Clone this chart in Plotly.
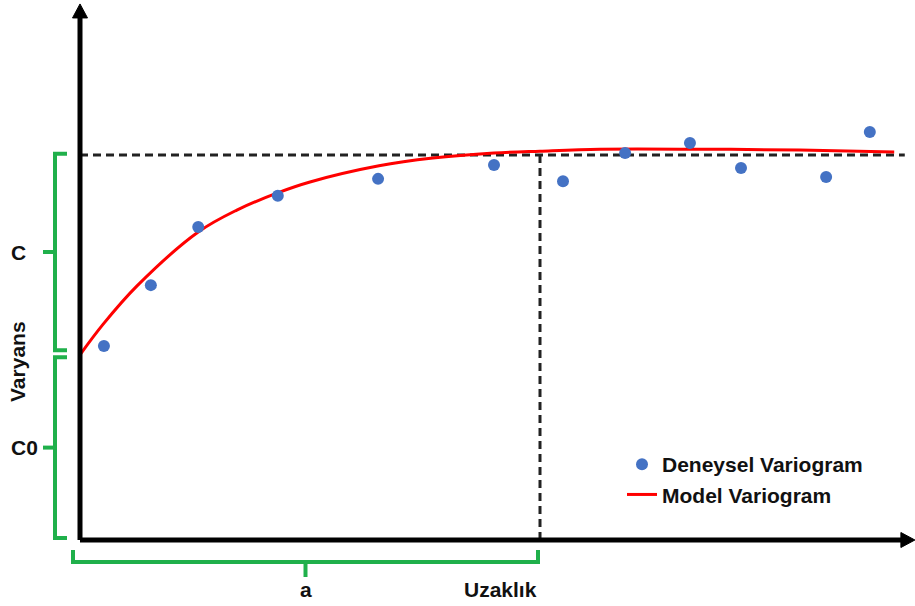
import plotly.graph_objects as go

# ---- data (distance units, variance units) ----
lag_distance = [0.52, 1.54, 2.57, 4.30, 6.48, 9.00, 10.50, 11.85, 13.26, 14.37, 16.22, 17.17]
exp_variance = [5.04, 6.62, 8.13, 8.94, 9.38, 9.74, 9.32, 10.05, 10.31, 9.66, 9.43, 10.60]

model_distance = [0.0, 0.50, 1.24, 2.57, 3.41, 4.28, 5.00, 6.50, 7.67, 9.00, 10.0, 11.30, 13.48, 15.65, 17.70]
model_variance = [4.81, 5.60, 6.60, 8.00, 8.57, 9.01, 9.30, 9.72, 9.92, 10.05, 10.10, 10.15, 10.15, 10.13, 10.08]

sill = 10.0
nugget = 4.81
range_a = 10.0
x_end = 17.93

series_names = ["Deneysel Variogram", "Model Variogram"]
label_C, label_C0, label_a = "C", "C0", "a"
x_title, y_title = "Uzaklık", "Varyans"

# axis ranges (px = 80 + 46*x ; py = 540 - 38.5*y)
XR = [-80 / 46, (915 - 80) / 46]
YR = [-66 / 38.5, 540 / 38.5]
px = 1 / 46.0
py = 1 / 38.5

GREEN = "#20b04b"
BLACK = "#000000"
FONT = "Liberation Sans, Arial, sans-serif"

fig = go.Figure()

fig.add_trace(go.Scatter(
    x=model_distance, y=model_variance, mode="lines", name=series_names[1],
    line=dict(color="#ff0000", width=3, shape="spline", smoothing=1.0),
))
fig.add_trace(go.Scatter(
    x=lag_distance, y=exp_variance, mode="markers", name=series_names[0],
    marker=dict(color="#4472c4", size=12, line=dict(width=0)),
))

shapes = []
# dashed sill and range lines
shapes.append(dict(type="line", x0=0, x1=x_end, y0=sill, y1=sill,
                   line=dict(color="#222222", width=3, dash="8px,5px"), layer="below"))
shapes.append(dict(type="line", x0=range_a, x1=range_a, y0=0, y1=sill,
                   line=dict(color="#222222", width=3, dash="8px,5px"), layer="below"))
# axes
y_top = 13.56
x_tip = 18.15
shapes.append(dict(type="line", x0=0, x1=0, y0=0, y1=y_top + 2 * py,
                   line=dict(color=BLACK, width=5)))
shapes.append(dict(type="line", x0=0, x1=x_tip - 13 * px, y0=0, y1=0,
                   line=dict(color=BLACK, width=5)))
# arrowheads
shapes.append(dict(type="path",
                   path=f"M {-7.5*px},{y_top} L {7.5*px},{y_top} L 0,{y_top + 14*py} Z",
                   fillcolor=BLACK, line=dict(color=BLACK, width=1)))
shapes.append(dict(type="path",
                   path=f"M {x_tip - 14*px},{7.5*py} L {x_tip - 14*px},{-7.5*py} L {x_tip},0 Z",
                   fillcolor=BLACK, line=dict(color=BLACK, width=1)))

# green brackets
gl = dict(color=GREEN, width=4)
bx = -25 * px      # bracket spine x
hx = -13 * px      # hook end x
tx = -37 * px      # tick end x
c_top, c_bot = sill + 0.03, nugget + 0.12
c0_top, c0_bot = nugget - 0.06, 0.05
c_mid = (c_top + c_bot) / 2
c0_mid = (c0_top + c0_bot) / 2
shapes.append(dict(type="path", line=gl,
                   path=f"M {hx},{c_top} L {bx},{c_top} L {bx},{c_bot} L {hx},{c_bot}"))
shapes.append(dict(type="line", x0=tx, x1=bx, y0=c_mid, y1=c_mid, line=gl))
shapes.append(dict(type="path", line=gl,
                   path=f"M {hx},{c0_top} L {bx},{c0_top} L {bx},{c0_bot} L {hx},{c0_bot}"))
shapes.append(dict(type="line", x0=tx, x1=bx, y0=c0_mid, y1=c0_mid, line=gl))
# bottom bracket for range a
by = -22 * py
hy = -10 * py
ty = -37 * py
a_left, a_right = -7 * px, range_a - 2 * px
a_mid = (a_left + a_right) / 2
shapes.append(dict(type="path", line=gl,
                   path=f"M {a_left},{hy} L {a_left},{by} L {a_right},{by} L {a_right},{hy}"))
shapes.append(dict(type="line", x0=a_mid, x1=a_mid, y0=by, y1=ty, line=gl))

lbl = dict(family=FONT, size=21, color="#111111")
annotations = [
    dict(x=-62 * px, y=c_mid, text=f"<b>{label_C}</b>", showarrow=False, font=lbl),
    dict(x=-56 * px, y=c0_mid, text=f"<b>{label_C0}</b>", showarrow=False, font=lbl),
    dict(x=-63 * px, y=(540 - 362) * py, text=f"<b>{y_title}</b>", showarrow=False,
         font=lbl, textangle=-90),
    dict(x=a_mid, y=-49 * py, text=f"<b>{label_a}</b>", showarrow=False, font=lbl),
    dict(x=range_a - 1 * px, y=-49 * py, text=f"<b>{x_title}</b>", showarrow=False,
         font=lbl, xanchor="right"),
]

fig.update_layout(
    width=915, height=606,
    margin=dict(l=0, r=0, t=0, b=0),
    paper_bgcolor="white", plot_bgcolor="white",
    xaxis=dict(range=XR, visible=False, fixedrange=True),
    yaxis=dict(range=YR, visible=False, fixedrange=True),
    shapes=shapes,
    annotations=annotations,
    showlegend=True,
    legend=dict(x=622 / 915, y=1 - 444 / 606, xanchor="left", yanchor="top",
                font=dict(family=FONT, size=21, color="#111111", weight="bold"),
                traceorder="reversed", bgcolor="rgba(0,0,0,0)", itemwidth=30,
                tracegroupgap=0),
)

fig.write_html("out.html")
